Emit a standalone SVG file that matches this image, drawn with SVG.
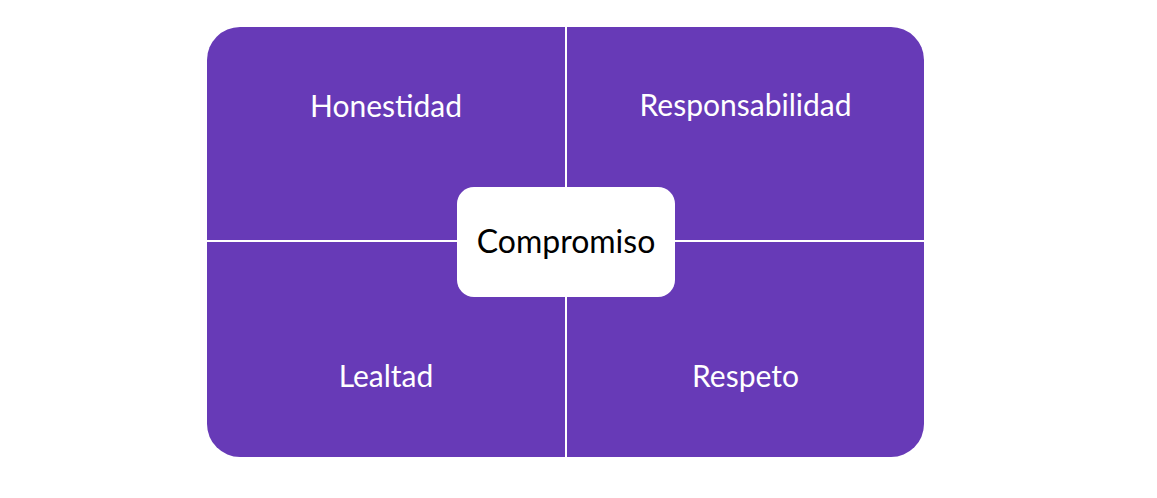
<svg xmlns="http://www.w3.org/2000/svg" width="1157" height="498" viewBox="0 0 1157 498">
<style>
.q{fill:#673AB7}
.t{font-family:Lato,"Open Sans",sans-serif;font-size:30px;fill:#ffffff;text-anchor:middle}
.c{font-family:Lato,"Open Sans",sans-serif;font-size:32px;fill:#000000;text-anchor:middle}
</style>
<rect width="1157" height="498" fill="#ffffff"/>
<g id="honestidad">
<path class="q" d="M207,60 A33,33 0 0 1 240,27 L565,27 L565,240 L207,240 Z"/>
<text class="t" x="386" y="117">Honestidad</text>
</g>
<g id="responsabilidad">
<path class="q" d="M567,27 L891,27 A33,33 0 0 1 924,60 L924,240 L567,240 Z"/>
<text class="t" x="745.5" y="116">Responsabilidad</text>
</g>
<g id="lealtad">
<path class="q" d="M207,242 L565,242 L565,457 L240,457 A33,33 0 0 1 207,424 Z"/>
<text class="t" x="386" y="387">Lealtad</text>
</g>
<g id="respeto">
<path class="q" d="M567,242 L924,242 L924,424 A33,33 0 0 1 891,457 L567,457 Z"/>
<text class="t" x="745.5" y="387">Respeto</text>
</g>
<g id="compromiso">
<rect x="457" y="187" width="218" height="110" rx="17" ry="17" fill="#ffffff"/>
<text class="c" x="566" y="253">Compromiso</text>
</g>
<g id="connectors"></g>
</svg>
